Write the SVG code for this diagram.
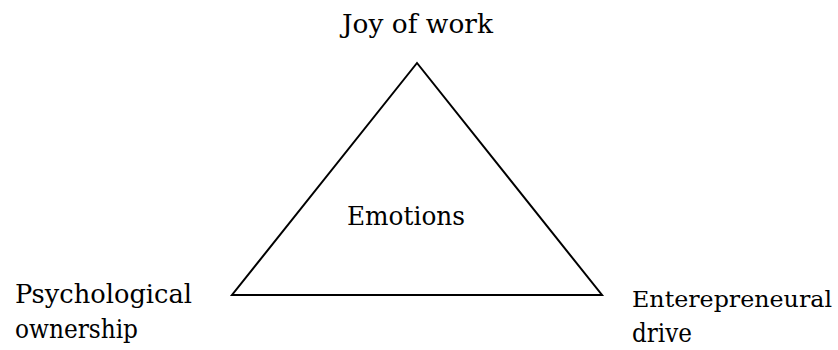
<svg xmlns="http://www.w3.org/2000/svg" width="838" height="350" viewBox="0 0 838 350">
<style>
.t{font-family:"DejaVu Serif","Liberation Serif","Times New Roman",serif;font-size:26px;fill:#000}
.edge{fill:#fff;stroke:#000;stroke-width:2}
</style>
<rect width="838" height="350" fill="#fff"/>
<g id="connectors">
<polygon class="edge" points="417,63 232,295 602,295"/>
</g>
<g id="emotions"><text class="t" x="347" y="225" textLength="118" lengthAdjust="spacingAndGlyphs">Emotions</text></g>
<g id="joy"><text class="t" x="342" y="33" textLength="151" lengthAdjust="spacingAndGlyphs">Joy of work</text></g>
<g id="ownership">
<text class="t" x="15" y="303" textLength="177" lengthAdjust="spacingAndGlyphs">Psychological</text>
<text class="t" x="15" y="338" textLength="123" lengthAdjust="spacingAndGlyphs">ownership</text>
</g>
<g id="drive">
<text class="t" x="632" y="307" style="font-size:22.5px" textLength="200" lengthAdjust="spacingAndGlyphs">Enterepreneural</text>
<text class="t" x="632" y="342" textLength="60" lengthAdjust="spacingAndGlyphs">drive</text>
</g>
</svg>
